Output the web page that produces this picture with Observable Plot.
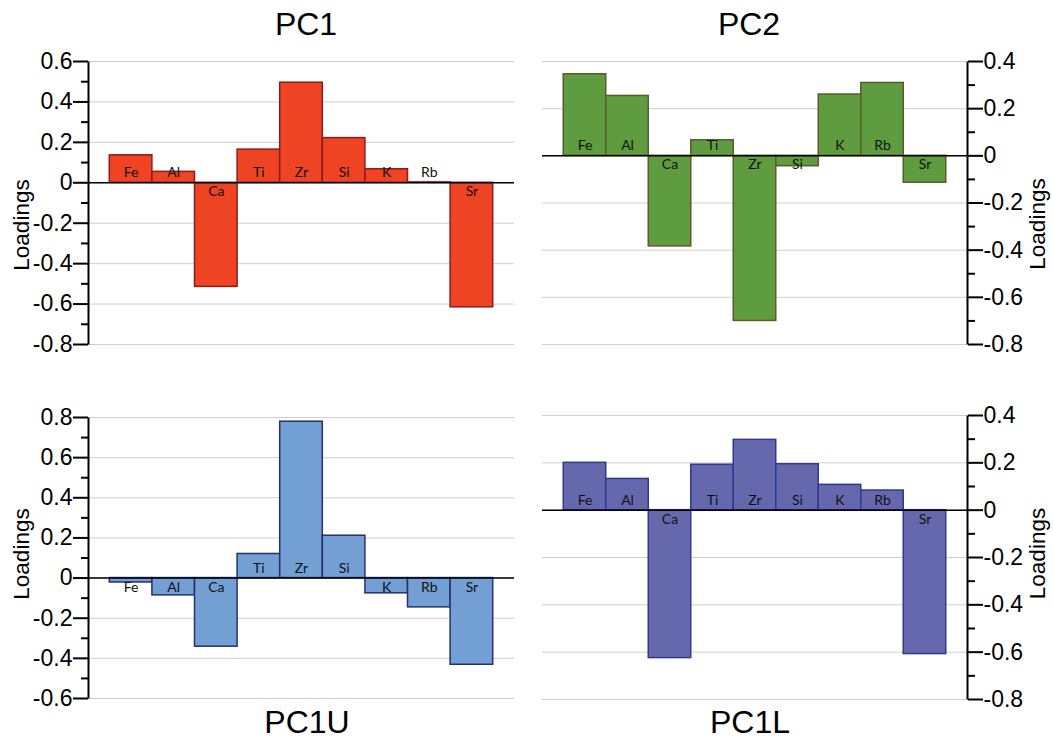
<!DOCTYPE html>
<html><head><meta charset="utf-8">
<script src="https://cdn.jsdelivr.net/npm/d3@7"></script>
<script src="https://cdn.jsdelivr.net/npm/@observablehq/plot@0.6"></script>
<style>
body{margin:0;background:#fff;}
#wrap{position:relative;width:1053px;height:739px;overflow:hidden;font-family:"Liberation Sans",Arial,sans-serif;}
.panel{position:absolute;}
.title{position:absolute;font-size:32px;line-height:32px;color:#000;text-align:center;width:200px;}
</style></head><body>
<div id="wrap">
  <div class="title" style="left:206px;top:8px">PC1</div>
  <div class="title" style="left:649px;top:8px">PC2</div>
  <div class="title" style="left:207px;top:706px">PC1U</div>
  <div class="title" style="left:650px;top:706px">PC1L</div>
  <div class="panel" id="p1" style="left:0px;top:40px"></div>
  <div class="panel" id="p2" style="left:526px;top:40px"></div>
  <div class="panel" id="p3" style="left:0px;top:390px"></div>
  <div class="panel" id="p4" style="left:526px;top:390px"></div>
</div>
<script>
const elements = ["Fe", "Al", "Ca", "Ti", "Zr", "Si", "K", "Rb", "Sr"];
const pc1  = [0.136, 0.054, -0.515, 0.164, 0.495, 0.221, 0.067, 0.002, -0.616];
const pc2  = [0.346, 0.254, -0.384, 0.066, -0.700, -0.044, 0.260, 0.309, -0.114];
const pc1u = [-0.022, -0.086, -0.342, 0.120, 0.779, 0.211, -0.076, -0.146, -0.432];
const pc1l = [0.200, 0.132, -0.625, 0.192, 0.297, 0.194, 0.107, 0.083, -0.608];
const ticksPC1  = [-0.8, -0.6, -0.4, -0.2, 0, 0.2, 0.4, 0.6];
const ticksPC2  = [-0.8, -0.6, -0.4, -0.2, 0, 0.2, 0.4];
const ticksPC1U = [-0.6, -0.4, -0.2, 0, 0.2, 0.4, 0.6, 0.8];
const ticksPC1L = [-0.8, -0.6, -0.4, -0.2, 0, 0.2, 0.4];
const yTitle = "Loadings";

function panel({values, ticks, fill, stroke, side, width, height, margin, labelDx, labelDy}) {
  const data = elements.map((el, i) => ({el, v: values[i]}));
  const minor = ticks.slice(1).map((t, i) => (t + ticks[i]) / 2);
  const fmt = d => String(Math.round(d * 10) / 10);
  const W = width - margin.left - margin.right;
  const H = height - margin.top - margin.bottom;
  const dash = side === "left" ? `0,${2 * W + H},${H}` : `0,${W},${H},${W + H}`;
  return Plot.plot({
    width, height,
    marginLeft: margin.left, marginRight: margin.right,
    marginTop: margin.top, marginBottom: margin.bottom,
    style: {fontFamily: '"Liberation Sans", Arial, sans-serif', color: "#000", background: "transparent", overflow: "visible"},
    x: {domain: elements, paddingInner: 0, paddingOuter: 0.5, axis: null, round: false},
    y: {domain: [ticks[0], ticks[ticks.length - 1]]},
    marks: [
      Plot.gridY(ticks, {stroke: "#cfcfcf", strokeOpacity: 1, strokeWidth: 1}),
      Plot.barY(data, {x: "el", y: "v", fill, stroke, strokeWidth: 1.5}),
      Plot.ruleY([0], {stroke: "#000", strokeWidth: 1.5}),
      Plot.frame({stroke: "#000", strokeWidth: 2, strokeDasharray: dash}),
      Plot.axisY(minor, {anchor: side, tickSize: 7, tickFormat: () => "", strokeWidth: 2, label: null}),
      Plot.axisY(ticks, {anchor: side, tickSize: 15, tickPadding: 1, tickFormat: fmt, fontSize: 23, strokeWidth: 2, label: null}),
      Plot.text(data, {filter: d => d.v >= 0, x: "el", y: 0, text: "el", dy: -10, fontSize: 14, fontFamily: "Lato", fill: "#111"}),
      Plot.text(data, {filter: d => d.v < 0, x: "el", y: 0, text: "el", dy: 9, fontSize: 14, fontFamily: "Lato", fill: "#111"}),
      Plot.text([yTitle], {frameAnchor: side, textAnchor: "middle", dx: labelDx, dy: labelDy, rotate: -90, fontSize: 22.5, fill: "#000"})
    ]
  });
}

document.getElementById("p1").append(panel({
  values: pc1, ticks: ticksPC1, fill: "#EE4423", stroke: "#8B1C1C", side: "left",
  width: 526, height: 320, margin: {left: 88, right: 12, top: 21, bottom: 16}, labelDx: -67, labelDy: 22
}));
document.getElementById("p2").append(panel({
  values: pc2, ticks: ticksPC2, fill: "#5F9B3F", stroke: "#5C5A2B", side: "right",
  width: 527, height: 320, margin: {left: 16, right: 86, top: 21, bottom: 16}, labelDx: 70, labelDy: 21
}));
document.getElementById("p3").append(panel({
  values: pc1u, ticks: ticksPC1U, fill: "#729FD4", stroke: "#27306E", side: "left",
  width: 526, height: 320, margin: {left: 88, right: 12, top: 27, bottom: 12}, labelDx: -67, labelDy: -4
}));
document.getElementById("p4").append(panel({
  values: pc1l, ticks: ticksPC1L, fill: "#6668AE", stroke: "#2C3B8E", side: "right",
  width: 527, height: 320, margin: {left: 16, right: 86, top: 25, bottom: 11}, labelDx: 70, labelDy: -4
}));
</script>
</body></html>
